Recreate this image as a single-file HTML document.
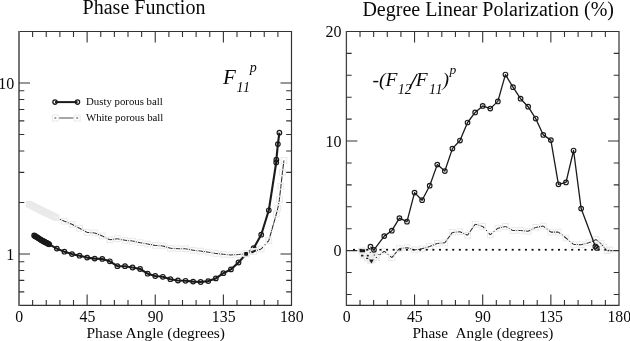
<!DOCTYPE html>
<html><head><meta charset="utf-8"><title>Phase Function / Degree Linear Polarization</title>
<style>
html,body{margin:0;padding:0;background:#fff;}
svg{display:block;will-change:transform;filter:grayscale(1);}
text{font-family:"Liberation Serif",serif;fill:#0a0a0a;}
</style></head><body>
<svg width="630" height="341" viewBox="0 0 630 341">
<rect width="630" height="341" fill="#fff"/>
<path d="M19.0,31.5H291.5V305.4H19.0" fill="none" stroke="#333" stroke-width="1.2"/>
<path d="M19.0,30.9V306.0" fill="none" stroke="#666" stroke-width="1.8"/>
<path d="M346.4,31.5H619.0V305.4H346.4" fill="none" stroke="#333" stroke-width="1.2"/>
<path d="M346.4,30.9V306.0" fill="none" stroke="#444" stroke-width="1.3"/>
<path d="M32.62,31.5v5.4 M32.62,305.4v-5.4 M46.25,31.5v5.4 M46.25,305.4v-5.4 M59.88,31.5v5.4 M59.88,305.4v-5.4 M73.50,31.5v5.4 M73.50,305.4v-5.4 M87.12,31.5v11 M87.12,305.4v-11 M100.75,31.5v5.4 M100.75,305.4v-5.4 M114.38,31.5v5.4 M114.38,305.4v-5.4 M128.00,31.5v5.4 M128.00,305.4v-5.4 M141.62,31.5v5.4 M141.62,305.4v-5.4 M155.25,31.5v11 M155.25,305.4v-11 M168.88,31.5v5.4 M168.88,305.4v-5.4 M182.50,31.5v5.4 M182.50,305.4v-5.4 M196.12,31.5v5.4 M196.12,305.4v-5.4 M209.75,31.5v5.4 M209.75,305.4v-5.4 M223.38,31.5v11 M223.38,305.4v-11 M237.00,31.5v5.4 M237.00,305.4v-5.4 M250.62,31.5v5.4 M250.62,305.4v-5.4 M264.25,31.5v5.4 M264.25,305.4v-5.4 M277.88,31.5v5.4 M277.88,305.4v-5.4" stroke="#333" stroke-width="1.1" fill="none"/>
<path d="M360.03,31.5v5.4 M360.03,305.4v-5.4 M373.66,31.5v5.4 M373.66,305.4v-5.4 M387.29,31.5v5.4 M387.29,305.4v-5.4 M400.92,31.5v5.4 M400.92,305.4v-5.4 M414.55,31.5v11 M414.55,305.4v-11 M428.18,31.5v5.4 M428.18,305.4v-5.4 M441.81,31.5v5.4 M441.81,305.4v-5.4 M455.44,31.5v5.4 M455.44,305.4v-5.4 M469.07,31.5v5.4 M469.07,305.4v-5.4 M482.70,31.5v11 M482.70,305.4v-11 M496.33,31.5v5.4 M496.33,305.4v-5.4 M509.96,31.5v5.4 M509.96,305.4v-5.4 M523.59,31.5v5.4 M523.59,305.4v-5.4 M537.22,31.5v5.4 M537.22,305.4v-5.4 M550.85,31.5v11 M550.85,305.4v-11 M564.48,31.5v5.4 M564.48,305.4v-5.4 M578.11,31.5v5.4 M578.11,305.4v-5.4 M591.74,31.5v5.4 M591.74,305.4v-5.4 M605.37,31.5v5.4 M605.37,305.4v-5.4" stroke="#333" stroke-width="1.1" fill="none"/>
<path d="M19.0,82.97h11 M291.5,82.97h-11 M19.0,90.79h5.3 M291.5,90.79h-5.3 M19.0,99.53h5.3 M291.5,99.53h-5.3 M19.0,109.45h5.3 M291.5,109.45h-5.3 M19.0,120.90h5.3 M291.5,120.90h-5.3 M19.0,134.43h5.3 M291.5,134.43h-5.3 M19.0,151.00h5.3 M291.5,151.00h-5.3 M19.0,172.36h5.3 M291.5,172.36h-5.3 M19.0,202.47h5.3 M291.5,202.47h-5.3 M19.0,253.93h11 M291.5,253.93h-11 M19.0,261.76h5.3 M291.5,261.76h-5.3 M19.0,270.50h5.3 M291.5,270.50h-5.3 M19.0,280.42h5.3 M291.5,280.42h-5.3 M19.0,291.86h5.3 M291.5,291.86h-5.3" stroke="#333" stroke-width="1.1" fill="none"/>
<path d="M346.4,294.44h5.3 M619.0,294.44h-5.3 M346.4,272.53h5.3 M619.0,272.53h-5.3 M346.4,250.62h11 M619.0,250.62h-11 M346.4,228.71h5.3 M619.0,228.71h-5.3 M346.4,206.80h5.3 M619.0,206.80h-5.3 M346.4,184.88h5.3 M619.0,184.88h-5.3 M346.4,162.97h5.3 M619.0,162.97h-5.3 M346.4,141.06h11 M619.0,141.06h-11 M346.4,119.15h5.3 M619.0,119.15h-5.3 M346.4,97.24h5.3 M619.0,97.24h-5.3 M346.4,75.32h5.3 M619.0,75.32h-5.3 M346.4,53.41h5.3 M619.0,53.41h-5.3" stroke="#333" stroke-width="1.1" fill="none"/>
<text x="19.3" y="321.6" font-size="15.8" text-anchor="middle"  style="">0</text>
<text x="346.7" y="321.6" font-size="15.8" text-anchor="middle"  style="">0</text>
<text x="87.4" y="321.6" font-size="15.8" text-anchor="middle"  style="">45</text>
<text x="414.8" y="321.6" font-size="15.8" text-anchor="middle"  style="">45</text>
<text x="155.6" y="321.6" font-size="15.8" text-anchor="middle"  style="">90</text>
<text x="483.0" y="321.6" font-size="15.8" text-anchor="middle"  style="">90</text>
<text x="223.7" y="321.6" font-size="15.8" text-anchor="middle"  style="">135</text>
<text x="551.1" y="321.6" font-size="15.8" text-anchor="middle"  style="">135</text>
<text x="291.8" y="321.6" font-size="15.8" text-anchor="middle"  style="">180</text>
<text x="619.3" y="321.6" font-size="15.8" text-anchor="middle"  style="">180</text>
<text x="14.2" y="88.6" font-size="16" text-anchor="end"  style="">10</text>
<text x="14.2" y="259.7" font-size="16" text-anchor="end"  style="">1</text>
<text x="341.6" y="36.9" font-size="16" text-anchor="end"  style="">20</text>
<text x="341.6" y="147.0" font-size="16" text-anchor="end"  style="">10</text>
<text x="341.6" y="255.9" font-size="16" text-anchor="end"  style="">0</text>
<text x="144" y="14.1" font-size="20" text-anchor="middle"  style="">Phase Function</text>
<text x="488.2" y="15.7" font-size="20" text-anchor="middle"  style="">Degree Linear Polarization (%)</text>
<text x="155.7" y="337.6" font-size="15.5" text-anchor="middle"  style="">Phase Angle (degrees)</text>
<text x="482.9" y="337.7" font-size="15.25" text-anchor="middle"  style="">Phase&#160;&#160;Angle (degrees)</text>
<text x="86.0" y="105" font-size="10.8" text-anchor="start"  style="">Dusty porous ball</text>
<text x="86.0" y="120.5" font-size="10.8" text-anchor="start"  style="">White porous ball</text>
<text x="223.0" y="83.7" font-size="21" text-anchor="start"  style="font-style:italic">F</text>
<text x="236.6" y="91.9" font-size="14" text-anchor="start"  style="font-style:italic;letter-spacing:0.5px">11</text>
<text x="249.7" y="72.0" font-size="14" text-anchor="start"  style="font-style:italic">p</text>
<text x="372.6" y="85.5" font-size="19.5" text-anchor="start"  style="font-style:italic">-(F</text>
<text x="397.8" y="94.1" font-size="14" text-anchor="start"  style="font-style:italic">12</text>
<path d="M409.3,88.6L417.2,74.0" stroke="#0a0a0a" stroke-width="1.25" fill="none"/>
<text x="415.7" y="85.5" font-size="19.5" text-anchor="start"  style="font-style:italic">F</text>
<text x="428.9" y="94.1" font-size="14" text-anchor="start"  style="font-style:italic;letter-spacing:0.6px">11</text>
<text x="442.6" y="85.5" font-size="19.5" text-anchor="start"  style="font-style:italic">)</text>
<text x="449.5" y="74.4" font-size="13.5" text-anchor="start"  style="font-style:italic">p</text>
<path d="M56.24,217.60L64.42,221.20" fill="none" stroke="#2a2a2a" stroke-width="1.05" stroke-dasharray="2.4 1.42 1.3 1.42 2.4 0"/>
<path d="M64.42,221.20L71.99,224.30" fill="none" stroke="#2a2a2a" stroke-width="1.05" stroke-dasharray="2.4 1.04 1.3 1.04 2.4 0"/>
<path d="M71.99,224.30L79.56,228.30" fill="none" stroke="#2a2a2a" stroke-width="1.05" stroke-dasharray="2.4 1.23 1.3 1.23 2.4 0"/>
<path d="M79.56,228.30L87.12,232.40" fill="none" stroke="#2a2a2a" stroke-width="1.05" stroke-dasharray="2.4 1.25 1.3 1.25 2.4 0"/>
<path d="M87.12,232.40L94.69,232.90" fill="none" stroke="#2a2a2a" stroke-width="1.05" stroke-dasharray="2.4 0.74 1.3 0.74 2.4 0"/>
<path d="M94.69,232.90L102.26,236.00" fill="none" stroke="#2a2a2a" stroke-width="1.05" stroke-dasharray="2.4 1.04 1.3 1.04 2.4 0"/>
<path d="M102.26,236.00L109.83,239.80" fill="none" stroke="#2a2a2a" stroke-width="1.05" stroke-dasharray="2.4 1.18 1.3 1.18 2.4 0"/>
<path d="M109.83,239.80L117.40,238.70" fill="none" stroke="#2a2a2a" stroke-width="1.05" stroke-dasharray="2.4 0.77 1.3 0.77 2.4 0"/>
<path d="M117.40,238.70L124.97,240.30" fill="none" stroke="#2a2a2a" stroke-width="1.05" stroke-dasharray="2.4 0.82 1.3 0.82 2.4 0"/>
<path d="M124.97,240.30L132.54,241.10" fill="none" stroke="#2a2a2a" stroke-width="1.05" stroke-dasharray="2.4 0.76 1.3 0.76 2.4 0"/>
<path d="M132.54,241.10L140.11,242.70" fill="none" stroke="#2a2a2a" stroke-width="1.05" stroke-dasharray="2.4 0.82 1.3 0.82 2.4 0"/>
<path d="M140.11,242.70L147.68,244.00" fill="none" stroke="#2a2a2a" stroke-width="1.05" stroke-dasharray="2.4 0.79 1.3 0.79 2.4 0"/>
<path d="M147.68,244.00L155.25,245.40" fill="none" stroke="#2a2a2a" stroke-width="1.05" stroke-dasharray="2.4 0.80 1.3 0.80 2.4 0"/>
<path d="M155.25,245.40L162.82,245.90" fill="none" stroke="#2a2a2a" stroke-width="1.05" stroke-dasharray="2.4 0.74 1.3 0.74 2.4 0"/>
<path d="M162.82,245.90L170.39,248.30" fill="none" stroke="#2a2a2a" stroke-width="1.05" stroke-dasharray="2.4 0.92 1.3 0.92 2.4 0"/>
<path d="M170.39,248.30L177.96,248.70" fill="none" stroke="#2a2a2a" stroke-width="1.05" stroke-dasharray="2.4 0.74 1.3 0.74 2.4 0"/>
<path d="M177.96,248.70L185.53,248.70" fill="none" stroke="#2a2a2a" stroke-width="1.05" stroke-dasharray="2.4 0.73 1.3 0.73 2.4 0"/>
<path d="M185.53,248.70L193.10,250.30" fill="none" stroke="#2a2a2a" stroke-width="1.05" stroke-dasharray="2.4 0.82 1.3 0.82 2.4 0"/>
<path d="M193.10,250.30L200.67,251.10" fill="none" stroke="#2a2a2a" stroke-width="1.05" stroke-dasharray="2.4 0.76 1.3 0.76 2.4 0"/>
<path d="M200.67,251.10L208.24,252.20" fill="none" stroke="#2a2a2a" stroke-width="1.05" stroke-dasharray="2.4 0.77 1.3 0.77 2.4 0"/>
<path d="M208.24,252.20L215.81,253.50" fill="none" stroke="#2a2a2a" stroke-width="1.05" stroke-dasharray="2.4 0.79 1.3 0.79 2.4 0"/>
<path d="M215.81,253.50L223.38,254.30" fill="none" stroke="#2a2a2a" stroke-width="1.05" stroke-dasharray="2.4 0.76 1.3 0.76 2.4 0"/>
<path d="M223.38,254.30L230.94,254.90" fill="none" stroke="#2a2a2a" stroke-width="1.05" stroke-dasharray="2.4 0.75 1.3 0.75 2.4 0"/>
<path d="M230.94,254.90L238.51,254.60" fill="none" stroke="#2a2a2a" stroke-width="1.05" stroke-dasharray="2.4 0.74 1.3 0.74 2.4 0"/>
<path d="M238.51,254.60L246.08,253.80" fill="none" stroke="#2a2a2a" stroke-width="1.05" stroke-dasharray="2.4 0.76 1.3 0.76 2.4 0"/>
<path d="M246.08,253.80L253.65,251.40" fill="none" stroke="#2a2a2a" stroke-width="1.05" stroke-dasharray="2.4 0.92 1.3 0.92 2.4 0"/>
<path d="M253.65,251.40L261.22,249.00" fill="none" stroke="#2a2a2a" stroke-width="1.05" stroke-dasharray="2.4 0.92 1.3 0.92 2.4 0"/>
<path d="M261.22,249.00L268.79,240.60" fill="none" stroke="#2a2a2a" stroke-width="1.05" stroke-dasharray="4.8 2.70 1.1 2.70" stroke-dashoffset="2.4"/>
<path d="M268.79,240.60L276.36,214.00" fill="none" stroke="#2a2a2a" stroke-width="1.05" stroke-dasharray="4.8 0.51 1.1 0.51" stroke-dashoffset="2.4"/>
<path d="M276.36,214.00L277.88,208.00" fill="none" stroke="#2a2a2a" stroke-width="1.05" stroke-dasharray="2.4 0.04 1.3 0.04 2.4 0"/>
<path d="M277.88,208.00L279.39,199.50" fill="none" stroke="#2a2a2a" stroke-width="1.05" stroke-dasharray="2.4 1.27 1.3 1.27 2.4 0"/>
<path d="M279.39,199.50L280.90,186.40" fill="none" stroke="#2a2a2a" stroke-width="1.05" stroke-dasharray="4.8 0.35 1.1 0.35" stroke-dashoffset="2.4"/>
<path d="M280.90,186.40L282.42,172.60" fill="none" stroke="#2a2a2a" stroke-width="1.05" stroke-dasharray="4.8 0.52 1.1 0.52" stroke-dashoffset="2.4"/>
<path d="M282.42,172.60L283.93,160.50" fill="none" stroke="#2a2a2a" stroke-width="1.05" stroke-dasharray="4.8 0.10 1.1 0.10" stroke-dashoffset="2.4"/>
<rect x="26.29" y="201.40" width="5.4" height="5.4" fill="#ededed" stroke="#e9e9e9" stroke-width="1"/>
<rect x="27.81" y="202.18" width="5.4" height="5.4" fill="#ededed" stroke="#e9e9e9" stroke-width="1"/>
<rect x="29.32" y="202.96" width="5.4" height="5.4" fill="#ededed" stroke="#e9e9e9" stroke-width="1"/>
<rect x="30.83" y="203.73" width="5.4" height="5.4" fill="#ededed" stroke="#e9e9e9" stroke-width="1"/>
<rect x="32.35" y="204.51" width="5.4" height="5.4" fill="#ededed" stroke="#e9e9e9" stroke-width="1"/>
<rect x="33.86" y="205.29" width="5.4" height="5.4" fill="#ededed" stroke="#e9e9e9" stroke-width="1"/>
<rect x="35.38" y="206.07" width="5.4" height="5.4" fill="#ededed" stroke="#e9e9e9" stroke-width="1"/>
<rect x="36.89" y="206.84" width="5.4" height="5.4" fill="#ededed" stroke="#e9e9e9" stroke-width="1"/>
<rect x="38.40" y="207.62" width="5.4" height="5.4" fill="#ededed" stroke="#e9e9e9" stroke-width="1"/>
<rect x="39.92" y="208.40" width="5.4" height="5.4" fill="#ededed" stroke="#e9e9e9" stroke-width="1"/>
<rect x="41.43" y="209.12" width="5.4" height="5.4" fill="#ededed" stroke="#e9e9e9" stroke-width="1"/>
<rect x="42.94" y="209.84" width="5.4" height="5.4" fill="#ededed" stroke="#e9e9e9" stroke-width="1"/>
<rect x="44.46" y="210.57" width="5.4" height="5.4" fill="#ededed" stroke="#e9e9e9" stroke-width="1"/>
<rect x="45.97" y="211.29" width="5.4" height="5.4" fill="#ededed" stroke="#e9e9e9" stroke-width="1"/>
<rect x="47.49" y="212.01" width="5.4" height="5.4" fill="#ededed" stroke="#e9e9e9" stroke-width="1"/>
<rect x="49.00" y="212.73" width="5.4" height="5.4" fill="#ededed" stroke="#e9e9e9" stroke-width="1"/>
<rect x="50.51" y="213.46" width="5.4" height="5.4" fill="#ededed" stroke="#e9e9e9" stroke-width="1"/>
<rect x="52.03" y="214.18" width="5.4" height="5.4" fill="#ededed" stroke="#e9e9e9" stroke-width="1"/>
<rect x="53.54" y="214.90" width="5.4" height="5.4" fill="#ededed" stroke="#e9e9e9" stroke-width="1"/>
<rect x="61.57" y="218.35" width="5.7" height="5.7" fill="none" stroke="#e9e9e9" stroke-width="1"/>
<rect x="69.14" y="221.45" width="5.7" height="5.7" fill="none" stroke="#e9e9e9" stroke-width="1"/>
<rect x="76.71" y="225.45" width="5.7" height="5.7" fill="none" stroke="#e9e9e9" stroke-width="1"/>
<rect x="84.28" y="229.55" width="5.7" height="5.7" fill="none" stroke="#e9e9e9" stroke-width="1"/>
<rect x="91.84" y="230.05" width="5.7" height="5.7" fill="none" stroke="#e9e9e9" stroke-width="1"/>
<rect x="99.41" y="233.15" width="5.7" height="5.7" fill="none" stroke="#e9e9e9" stroke-width="1"/>
<rect x="106.98" y="236.95" width="5.7" height="5.7" fill="none" stroke="#e9e9e9" stroke-width="1"/>
<rect x="114.55" y="235.85" width="5.7" height="5.7" fill="none" stroke="#e9e9e9" stroke-width="1"/>
<rect x="122.12" y="237.45" width="5.7" height="5.7" fill="none" stroke="#e9e9e9" stroke-width="1"/>
<rect x="129.69" y="238.25" width="5.7" height="5.7" fill="none" stroke="#e9e9e9" stroke-width="1"/>
<rect x="137.26" y="239.85" width="5.7" height="5.7" fill="none" stroke="#e9e9e9" stroke-width="1"/>
<rect x="144.83" y="241.15" width="5.7" height="5.7" fill="none" stroke="#e9e9e9" stroke-width="1"/>
<rect x="152.40" y="242.55" width="5.7" height="5.7" fill="none" stroke="#e9e9e9" stroke-width="1"/>
<rect x="159.97" y="243.05" width="5.7" height="5.7" fill="none" stroke="#e9e9e9" stroke-width="1"/>
<rect x="167.54" y="245.45" width="5.7" height="5.7" fill="none" stroke="#e9e9e9" stroke-width="1"/>
<rect x="175.11" y="245.85" width="5.7" height="5.7" fill="none" stroke="#e9e9e9" stroke-width="1"/>
<rect x="182.68" y="245.85" width="5.7" height="5.7" fill="none" stroke="#e9e9e9" stroke-width="1"/>
<rect x="190.25" y="247.45" width="5.7" height="5.7" fill="none" stroke="#e9e9e9" stroke-width="1"/>
<rect x="197.82" y="248.25" width="5.7" height="5.7" fill="none" stroke="#e9e9e9" stroke-width="1"/>
<rect x="205.39" y="249.35" width="5.7" height="5.7" fill="none" stroke="#e9e9e9" stroke-width="1"/>
<rect x="212.96" y="250.65" width="5.7" height="5.7" fill="none" stroke="#e9e9e9" stroke-width="1"/>
<rect x="220.53" y="251.45" width="5.7" height="5.7" fill="none" stroke="#e9e9e9" stroke-width="1"/>
<rect x="228.09" y="252.05" width="5.7" height="5.7" fill="none" stroke="#e9e9e9" stroke-width="1"/>
<rect x="235.66" y="251.75" width="5.7" height="5.7" fill="none" stroke="#e9e9e9" stroke-width="1"/>
<rect x="243.23" y="250.95" width="5.7" height="5.7" fill="none" stroke="#e9e9e9" stroke-width="1"/>
<rect x="250.80" y="248.55" width="5.7" height="5.7" fill="none" stroke="#e9e9e9" stroke-width="1"/>
<rect x="258.37" y="246.15" width="5.7" height="5.7" fill="none" stroke="#e9e9e9" stroke-width="1"/>
<rect x="265.94" y="237.75" width="5.7" height="5.7" fill="none" stroke="#e9e9e9" stroke-width="1"/>
<rect x="273.51" y="211.15" width="5.7" height="5.7" fill="none" stroke="#e9e9e9" stroke-width="1"/>
<rect x="275.02" y="205.15" width="5.7" height="5.7" fill="none" stroke="#e9e9e9" stroke-width="1"/>
<rect x="276.54" y="196.65" width="5.7" height="5.7" fill="none" stroke="#e9e9e9" stroke-width="1"/>
<rect x="278.05" y="183.55" width="5.7" height="5.7" fill="none" stroke="#e9e9e9" stroke-width="1"/>
<rect x="279.57" y="169.75" width="5.7" height="5.7" fill="none" stroke="#e9e9e9" stroke-width="1"/>
<rect x="281.08" y="157.65" width="5.7" height="5.7" fill="none" stroke="#e9e9e9" stroke-width="1"/>
<path d="M34.14,235.40 L34.90,235.89 L35.65,236.38 L36.41,236.87 L37.17,237.36 L37.92,237.85 L38.68,238.34 L39.44,238.83 L40.19,239.32 L40.95,239.81 L41.71,240.30 L42.47,240.70 L43.22,241.10 L43.98,241.50 L44.74,241.90 L45.49,242.30 L46.25,242.70 L47.01,243.10 L47.76,243.50 L48.52,243.90 L49.28,244.30 L56.85,248.60 L64.42,251.70 L71.99,254.10 L79.56,255.70 L87.12,257.60 L94.69,258.60 L102.26,258.90 L109.83,261.30 L117.40,266.20 L124.97,266.20 L132.54,267.50 L140.11,269.00 L147.68,273.70 L155.25,276.00 L162.82,276.80 L170.39,279.20 L177.96,280.50 L185.53,280.80 L193.10,281.60 L200.67,282.00 L208.24,281.10 L215.81,278.40 L223.38,273.20 L230.94,269.40 L238.51,262.50 L246.08,254.10 L253.65,248.20 L261.22,234.70 L268.79,210.30 L276.21,162.50 L276.36,159.70 L277.88,144.10 L279.39,132.70" fill="none" stroke="#1a1a1a" stroke-width="2.1" stroke-linejoin="round"/>
<circle cx="34.14" cy="235.40" r="2.3" fill="none" stroke="#1a1a1a" stroke-width="1.2"/>
<circle cx="34.90" cy="235.89" r="2.3" fill="none" stroke="#1a1a1a" stroke-width="1.2"/>
<circle cx="35.65" cy="236.38" r="2.3" fill="none" stroke="#1a1a1a" stroke-width="1.2"/>
<circle cx="36.41" cy="236.87" r="2.3" fill="none" stroke="#1a1a1a" stroke-width="1.2"/>
<circle cx="37.17" cy="237.36" r="2.3" fill="none" stroke="#1a1a1a" stroke-width="1.2"/>
<circle cx="37.92" cy="237.85" r="2.3" fill="none" stroke="#1a1a1a" stroke-width="1.2"/>
<circle cx="38.68" cy="238.34" r="2.3" fill="none" stroke="#1a1a1a" stroke-width="1.2"/>
<circle cx="39.44" cy="238.83" r="2.3" fill="none" stroke="#1a1a1a" stroke-width="1.2"/>
<circle cx="40.19" cy="239.32" r="2.3" fill="none" stroke="#1a1a1a" stroke-width="1.2"/>
<circle cx="40.95" cy="239.81" r="2.3" fill="none" stroke="#1a1a1a" stroke-width="1.2"/>
<circle cx="41.71" cy="240.30" r="2.3" fill="none" stroke="#1a1a1a" stroke-width="1.2"/>
<circle cx="42.47" cy="240.70" r="2.3" fill="none" stroke="#1a1a1a" stroke-width="1.2"/>
<circle cx="43.22" cy="241.10" r="2.3" fill="none" stroke="#1a1a1a" stroke-width="1.2"/>
<circle cx="43.98" cy="241.50" r="2.3" fill="none" stroke="#1a1a1a" stroke-width="1.2"/>
<circle cx="44.74" cy="241.90" r="2.3" fill="none" stroke="#1a1a1a" stroke-width="1.2"/>
<circle cx="45.49" cy="242.30" r="2.3" fill="none" stroke="#1a1a1a" stroke-width="1.2"/>
<circle cx="46.25" cy="242.70" r="2.3" fill="none" stroke="#1a1a1a" stroke-width="1.2"/>
<circle cx="47.01" cy="243.10" r="2.3" fill="none" stroke="#1a1a1a" stroke-width="1.2"/>
<circle cx="47.76" cy="243.50" r="2.3" fill="none" stroke="#1a1a1a" stroke-width="1.2"/>
<circle cx="48.52" cy="243.90" r="2.3" fill="none" stroke="#1a1a1a" stroke-width="1.2"/>
<circle cx="49.28" cy="244.30" r="2.3" fill="none" stroke="#1a1a1a" stroke-width="1.2"/>
<circle cx="56.85" cy="248.60" r="2.3" fill="none" stroke="#1a1a1a" stroke-width="1.2"/>
<circle cx="64.42" cy="251.70" r="2.3" fill="none" stroke="#1a1a1a" stroke-width="1.2"/>
<circle cx="71.99" cy="254.10" r="2.3" fill="none" stroke="#1a1a1a" stroke-width="1.2"/>
<circle cx="79.56" cy="255.70" r="2.3" fill="none" stroke="#1a1a1a" stroke-width="1.2"/>
<circle cx="87.12" cy="257.60" r="2.3" fill="none" stroke="#1a1a1a" stroke-width="1.2"/>
<circle cx="94.69" cy="258.60" r="2.3" fill="none" stroke="#1a1a1a" stroke-width="1.2"/>
<circle cx="102.26" cy="258.90" r="2.3" fill="none" stroke="#1a1a1a" stroke-width="1.2"/>
<circle cx="109.83" cy="261.30" r="2.3" fill="none" stroke="#1a1a1a" stroke-width="1.2"/>
<circle cx="117.40" cy="266.20" r="2.3" fill="none" stroke="#1a1a1a" stroke-width="1.2"/>
<circle cx="124.97" cy="266.20" r="2.3" fill="none" stroke="#1a1a1a" stroke-width="1.2"/>
<circle cx="132.54" cy="267.50" r="2.3" fill="none" stroke="#1a1a1a" stroke-width="1.2"/>
<circle cx="140.11" cy="269.00" r="2.3" fill="none" stroke="#1a1a1a" stroke-width="1.2"/>
<circle cx="147.68" cy="273.70" r="2.3" fill="none" stroke="#1a1a1a" stroke-width="1.2"/>
<circle cx="155.25" cy="276.00" r="2.3" fill="none" stroke="#1a1a1a" stroke-width="1.2"/>
<circle cx="162.82" cy="276.80" r="2.3" fill="none" stroke="#1a1a1a" stroke-width="1.2"/>
<circle cx="170.39" cy="279.20" r="2.3" fill="none" stroke="#1a1a1a" stroke-width="1.2"/>
<circle cx="177.96" cy="280.50" r="2.3" fill="none" stroke="#1a1a1a" stroke-width="1.2"/>
<circle cx="185.53" cy="280.80" r="2.3" fill="none" stroke="#1a1a1a" stroke-width="1.2"/>
<circle cx="193.10" cy="281.60" r="2.3" fill="none" stroke="#1a1a1a" stroke-width="1.2"/>
<circle cx="200.67" cy="282.00" r="2.3" fill="none" stroke="#1a1a1a" stroke-width="1.2"/>
<circle cx="208.24" cy="281.10" r="2.3" fill="none" stroke="#1a1a1a" stroke-width="1.2"/>
<circle cx="215.81" cy="278.40" r="2.3" fill="none" stroke="#1a1a1a" stroke-width="1.2"/>
<circle cx="223.38" cy="273.20" r="2.3" fill="none" stroke="#1a1a1a" stroke-width="1.2"/>
<circle cx="230.94" cy="269.40" r="2.3" fill="none" stroke="#1a1a1a" stroke-width="1.2"/>
<circle cx="238.51" cy="262.50" r="2.3" fill="none" stroke="#1a1a1a" stroke-width="1.2"/>
<circle cx="246.08" cy="254.10" r="2.3" fill="none" stroke="#1a1a1a" stroke-width="1.2"/>
<circle cx="253.65" cy="248.20" r="2.3" fill="none" stroke="#1a1a1a" stroke-width="1.2"/>
<circle cx="261.22" cy="234.70" r="2.3" fill="none" stroke="#1a1a1a" stroke-width="1.2"/>
<circle cx="268.79" cy="210.30" r="2.3" fill="none" stroke="#1a1a1a" stroke-width="1.2"/>
<circle cx="276.21" cy="162.50" r="2.3" fill="none" stroke="#1a1a1a" stroke-width="1.2"/>
<circle cx="276.36" cy="159.70" r="2.3" fill="none" stroke="#1a1a1a" stroke-width="1.2"/>
<circle cx="277.88" cy="144.10" r="2.3" fill="none" stroke="#1a1a1a" stroke-width="1.2"/>
<circle cx="279.39" cy="132.70" r="2.3" fill="none" stroke="#1a1a1a" stroke-width="1.2"/>
<rect x="243.18" y="250.90" width="5.8" height="5.8" fill="#fff" fill-opacity="0.88" stroke="#e9e9e9" stroke-width="1"/>
<rect x="250.75" y="248.50" width="5.8" height="5.8" fill="#fff" fill-opacity="0.88" stroke="#e9e9e9" stroke-width="1"/>
<rect x="244.18" y="252.00" width="3.8" height="3.8" rx="0.8" fill="#111"/>
<path d="M251.35,252.5L255.85,250.4" stroke="#1a1a1a" stroke-width="2" fill="none"/>
<path d="M55,102.1H77.5" stroke="#1a1a1a" stroke-width="2.0"/>
<circle cx="55.00" cy="102.10" r="2.15" fill="none" stroke="#1a1a1a" stroke-width="1.3"/>
<circle cx="77.50" cy="102.10" r="2.15" fill="none" stroke="#1a1a1a" stroke-width="1.3"/>
<path d="M59,118H73.5" stroke="#777" stroke-width="1.3"/>
<rect x="52.30" y="115.00" width="6.0" height="6.0" fill="none" stroke="#e9e9e9" stroke-width="1"/>
<rect x="74.20" y="115.00" width="6.0" height="6.0" fill="none" stroke="#e9e9e9" stroke-width="1"/>
<rect x="54.4" y="117.3" width="1.9" height="1.4" fill="#777"/><rect x="76.2" y="117.3" width="1.9" height="1.4" fill="#777"/>
<path d="M361.54,251.00L363.06,255.50" fill="none" stroke="#2a2a2a" stroke-width="1.05" stroke-dasharray="2.4 -0.68 1.3 -0.68 2.4 0"/>
<path d="M363.06,255.50L364.57,251.00" fill="none" stroke="#2a2a2a" stroke-width="1.05" stroke-dasharray="2.4 -0.68 1.3 -0.68 2.4 0"/>
<path d="M364.57,251.00L366.09,256.00" fill="none" stroke="#2a2a2a" stroke-width="1.05" stroke-dasharray="2.4 -0.44 1.3 -0.44 2.4 0"/>
<path d="M366.09,256.00L367.60,258.30" fill="none" stroke="#2a2a2a" stroke-width="1.05" />
<path d="M367.60,258.30L369.12,253.00" fill="none" stroke="#2a2a2a" stroke-width="1.05" stroke-dasharray="2.4 -0.29 1.3 -0.29 2.4 0"/>
<path d="M369.12,253.00L370.63,260.50" fill="none" stroke="#2a2a2a" stroke-width="1.05" stroke-dasharray="2.4 0.78 1.3 0.78 2.4 0"/>
<path d="M370.63,260.50L372.15,259.50" fill="none" stroke="#2a2a2a" stroke-width="1.05" />
<path d="M372.15,259.50L373.66,255.00" fill="none" stroke="#2a2a2a" stroke-width="1.05" stroke-dasharray="2.4 -0.68 1.3 -0.68 2.4 0"/>
<path d="M373.66,255.00L375.17,256.00" fill="none" stroke="#2a2a2a" stroke-width="1.05" />
<path d="M375.17,256.00L376.69,257.50" fill="none" stroke="#2a2a2a" stroke-width="1.05" />
<path d="M376.69,257.50L384.26,251.20" fill="none" stroke="#2a2a2a" stroke-width="1.05" stroke-dasharray="2.4 1.88 1.3 1.88 2.4 0"/>
<path d="M384.26,251.20L391.83,257.70" fill="none" stroke="#2a2a2a" stroke-width="1.05" stroke-dasharray="2.4 1.94 1.3 1.94 2.4 0"/>
<path d="M391.83,257.70L399.41,248.50" fill="none" stroke="#2a2a2a" stroke-width="1.05" stroke-dasharray="4.8 0.03 1.1 0.03" stroke-dashoffset="2.4"/>
<path d="M399.41,248.50L406.98,247.70" fill="none" stroke="#2a2a2a" stroke-width="1.05" stroke-dasharray="2.4 0.76 1.3 0.76 2.4 0"/>
<path d="M406.98,247.70L414.55,249.90" fill="none" stroke="#2a2a2a" stroke-width="1.05" stroke-dasharray="2.4 0.89 1.3 0.89 2.4 0"/>
<path d="M414.55,249.90L422.12,248.80" fill="none" stroke="#2a2a2a" stroke-width="1.05" stroke-dasharray="2.4 0.78 1.3 0.78 2.4 0"/>
<path d="M422.12,248.80L429.69,246.40" fill="none" stroke="#2a2a2a" stroke-width="1.05" stroke-dasharray="2.4 0.92 1.3 0.92 2.4 0"/>
<path d="M429.69,246.40L437.27,243.40" fill="none" stroke="#2a2a2a" stroke-width="1.05" stroke-dasharray="2.4 1.02 1.3 1.02 2.4 0"/>
<path d="M437.27,243.40L444.84,242.80" fill="none" stroke="#2a2a2a" stroke-width="1.05" stroke-dasharray="2.4 0.75 1.3 0.75 2.4 0"/>
<path d="M444.84,242.80L452.41,232.40" fill="none" stroke="#2a2a2a" stroke-width="1.05" stroke-dasharray="4.8 0.27 1.1 0.27" stroke-dashoffset="2.4"/>
<path d="M452.41,232.40L459.98,231.80" fill="none" stroke="#2a2a2a" stroke-width="1.05" stroke-dasharray="2.4 0.75 1.3 0.75 2.4 0"/>
<path d="M459.98,231.80L467.56,235.30" fill="none" stroke="#2a2a2a" stroke-width="1.05" stroke-dasharray="2.4 1.12 1.3 1.12 2.4 0"/>
<path d="M467.56,235.30L475.13,224.20" fill="none" stroke="#2a2a2a" stroke-width="1.05" stroke-dasharray="4.8 0.41 1.1 0.41" stroke-dashoffset="2.4"/>
<path d="M475.13,224.20L482.70,226.40" fill="none" stroke="#2a2a2a" stroke-width="1.05" stroke-dasharray="2.4 0.89 1.3 0.89 2.4 0"/>
<path d="M482.70,226.40L490.27,234.80" fill="none" stroke="#2a2a2a" stroke-width="1.05" stroke-dasharray="4.8 2.70 1.1 2.70" stroke-dashoffset="2.4"/>
<path d="M490.27,234.80L497.84,228.20" fill="none" stroke="#2a2a2a" stroke-width="1.05" stroke-dasharray="2.4 1.97 1.3 1.97 2.4 0"/>
<path d="M497.84,228.20L505.42,226.40" fill="none" stroke="#2a2a2a" stroke-width="1.05" stroke-dasharray="2.4 0.84 1.3 0.84 2.4 0"/>
<path d="M505.42,226.40L512.99,230.60" fill="none" stroke="#2a2a2a" stroke-width="1.05" stroke-dasharray="2.4 1.28 1.3 1.28 2.4 0"/>
<path d="M512.99,230.60L520.56,230.40" fill="none" stroke="#2a2a2a" stroke-width="1.05" stroke-dasharray="2.4 0.74 1.3 0.74 2.4 0"/>
<path d="M520.56,230.40L528.13,231.30" fill="none" stroke="#2a2a2a" stroke-width="1.05" stroke-dasharray="2.4 0.76 1.3 0.76 2.4 0"/>
<path d="M528.13,231.30L535.71,227.40" fill="none" stroke="#2a2a2a" stroke-width="1.05" stroke-dasharray="2.4 1.21 1.3 1.21 2.4 0"/>
<path d="M535.71,227.40L543.28,226.10" fill="none" stroke="#2a2a2a" stroke-width="1.05" stroke-dasharray="2.4 0.79 1.3 0.79 2.4 0"/>
<path d="M543.28,226.10L550.85,232.10" fill="none" stroke="#2a2a2a" stroke-width="1.05" stroke-dasharray="2.4 1.78 1.3 1.78 2.4 0"/>
<path d="M550.85,232.10L558.42,232.10" fill="none" stroke="#2a2a2a" stroke-width="1.05" stroke-dasharray="2.4 0.74 1.3 0.74 2.4 0"/>
<path d="M558.42,232.10L565.99,238.00" fill="none" stroke="#2a2a2a" stroke-width="1.05" stroke-dasharray="2.4 1.75 1.3 1.75 2.4 0"/>
<path d="M565.99,238.00L573.57,244.40" fill="none" stroke="#2a2a2a" stroke-width="1.05" stroke-dasharray="2.4 1.91 1.3 1.91 2.4 0"/>
<path d="M573.57,244.40L581.14,244.70" fill="none" stroke="#2a2a2a" stroke-width="1.05" stroke-dasharray="2.4 0.74 1.3 0.74 2.4 0"/>
<path d="M581.14,244.70L588.71,242.80" fill="none" stroke="#2a2a2a" stroke-width="1.05" stroke-dasharray="2.4 0.85 1.3 0.85 2.4 0"/>
<path d="M588.71,242.80L596.28,239.60" fill="none" stroke="#2a2a2a" stroke-width="1.05" stroke-dasharray="2.4 1.06 1.3 1.06 2.4 0"/>
<path d="M596.28,239.60L600.83,243.60" fill="none" stroke="#2a2a2a" stroke-width="1.05" stroke-dasharray="2.4 -0.02 1.3 -0.02 2.4 0"/>
<path d="M600.83,243.60L603.86,247.00" fill="none" stroke="#2a2a2a" stroke-width="1.05" stroke-dasharray="2.4 -0.77 1.3 -0.77 2.4 0"/>
<path d="M603.86,247.00L606.88,250.70" fill="none" stroke="#2a2a2a" stroke-width="1.05" stroke-dasharray="2.4 -0.66 1.3 -0.66 2.4 0"/>
<path d="M606.88,250.70L609.91,249.90" fill="none" stroke="#2a2a2a" stroke-width="1.05" stroke-dasharray="2.4 -1.48 1.3 -1.48 2.4 0"/>
<rect x="358.69" y="248.15" width="5.7" height="5.7" fill="#f1f1f1" stroke="#e9e9e9" stroke-width="1"/>
<rect x="360.21" y="252.65" width="5.7" height="5.7" fill="#f1f1f1" stroke="#e9e9e9" stroke-width="1"/>
<rect x="361.72" y="248.15" width="5.7" height="5.7" fill="#f1f1f1" stroke="#e9e9e9" stroke-width="1"/>
<rect x="363.24" y="253.15" width="5.7" height="5.7" fill="#f1f1f1" stroke="#e9e9e9" stroke-width="1"/>
<rect x="364.75" y="255.45" width="5.7" height="5.7" fill="#f1f1f1" stroke="#e9e9e9" stroke-width="1"/>
<rect x="366.27" y="250.15" width="5.7" height="5.7" fill="#f1f1f1" stroke="#e9e9e9" stroke-width="1"/>
<rect x="367.78" y="257.65" width="5.7" height="5.7" fill="#f1f1f1" stroke="#e9e9e9" stroke-width="1"/>
<rect x="369.30" y="256.65" width="5.7" height="5.7" fill="#f1f1f1" stroke="#e9e9e9" stroke-width="1"/>
<rect x="370.81" y="252.15" width="5.7" height="5.7" fill="#f1f1f1" stroke="#e9e9e9" stroke-width="1"/>
<rect x="372.32" y="253.15" width="5.7" height="5.7" fill="#f1f1f1" stroke="#e9e9e9" stroke-width="1"/>
<rect x="373.84" y="254.65" width="5.7" height="5.7" fill="#f1f1f1" stroke="#e9e9e9" stroke-width="1"/>
<rect x="381.41" y="248.35" width="5.7" height="5.7" fill="none" stroke="#e9e9e9" stroke-width="1"/>
<rect x="388.98" y="254.85" width="5.7" height="5.7" fill="none" stroke="#e9e9e9" stroke-width="1"/>
<rect x="396.56" y="245.65" width="5.7" height="5.7" fill="none" stroke="#e9e9e9" stroke-width="1"/>
<rect x="404.13" y="244.85" width="5.7" height="5.7" fill="none" stroke="#e9e9e9" stroke-width="1"/>
<rect x="411.70" y="247.05" width="5.7" height="5.7" fill="none" stroke="#e9e9e9" stroke-width="1"/>
<rect x="419.27" y="245.95" width="5.7" height="5.7" fill="none" stroke="#e9e9e9" stroke-width="1"/>
<rect x="426.84" y="243.55" width="5.7" height="5.7" fill="none" stroke="#e9e9e9" stroke-width="1"/>
<rect x="434.42" y="240.55" width="5.7" height="5.7" fill="none" stroke="#e9e9e9" stroke-width="1"/>
<rect x="441.99" y="239.95" width="5.7" height="5.7" fill="none" stroke="#e9e9e9" stroke-width="1"/>
<rect x="449.56" y="229.55" width="5.7" height="5.7" fill="none" stroke="#e9e9e9" stroke-width="1"/>
<rect x="457.13" y="228.95" width="5.7" height="5.7" fill="none" stroke="#e9e9e9" stroke-width="1"/>
<rect x="464.71" y="232.45" width="5.7" height="5.7" fill="none" stroke="#e9e9e9" stroke-width="1"/>
<rect x="472.28" y="221.35" width="5.7" height="5.7" fill="none" stroke="#e9e9e9" stroke-width="1"/>
<rect x="479.85" y="223.55" width="5.7" height="5.7" fill="none" stroke="#e9e9e9" stroke-width="1"/>
<rect x="487.42" y="231.95" width="5.7" height="5.7" fill="none" stroke="#e9e9e9" stroke-width="1"/>
<rect x="494.99" y="225.35" width="5.7" height="5.7" fill="none" stroke="#e9e9e9" stroke-width="1"/>
<rect x="502.57" y="223.55" width="5.7" height="5.7" fill="none" stroke="#e9e9e9" stroke-width="1"/>
<rect x="510.14" y="227.75" width="5.7" height="5.7" fill="none" stroke="#e9e9e9" stroke-width="1"/>
<rect x="517.71" y="227.55" width="5.7" height="5.7" fill="none" stroke="#e9e9e9" stroke-width="1"/>
<rect x="525.28" y="228.45" width="5.7" height="5.7" fill="none" stroke="#e9e9e9" stroke-width="1"/>
<rect x="532.86" y="224.55" width="5.7" height="5.7" fill="none" stroke="#e9e9e9" stroke-width="1"/>
<rect x="540.43" y="223.25" width="5.7" height="5.7" fill="none" stroke="#e9e9e9" stroke-width="1"/>
<rect x="548.00" y="229.25" width="5.7" height="5.7" fill="none" stroke="#e9e9e9" stroke-width="1"/>
<rect x="555.57" y="229.25" width="5.7" height="5.7" fill="none" stroke="#e9e9e9" stroke-width="1"/>
<rect x="563.14" y="235.15" width="5.7" height="5.7" fill="none" stroke="#e9e9e9" stroke-width="1"/>
<rect x="570.72" y="241.55" width="5.7" height="5.7" fill="none" stroke="#e9e9e9" stroke-width="1"/>
<rect x="578.29" y="241.85" width="5.7" height="5.7" fill="none" stroke="#e9e9e9" stroke-width="1"/>
<rect x="585.86" y="239.95" width="5.7" height="5.7" fill="none" stroke="#e9e9e9" stroke-width="1"/>
<rect x="593.43" y="236.75" width="5.7" height="5.7" fill="none" stroke="#e9e9e9" stroke-width="1"/>
<rect x="597.98" y="240.75" width="5.7" height="5.7" fill="none" stroke="#e9e9e9" stroke-width="1"/>
<rect x="601.01" y="244.15" width="5.7" height="5.7" fill="none" stroke="#e9e9e9" stroke-width="1"/>
<rect x="604.03" y="247.85" width="5.7" height="5.7" fill="none" stroke="#e9e9e9" stroke-width="1"/>
<rect x="607.06" y="247.05" width="5.7" height="5.7" fill="none" stroke="#e9e9e9" stroke-width="1"/>
<rect x="353.01" y="248.90" width="2.0" height="1.7" fill="#0a0a0a"/>
<rect x="359.63" y="248.90" width="2.0" height="1.7" fill="#0a0a0a"/>
<rect x="366.24" y="248.90" width="2.0" height="1.7" fill="#0a0a0a"/>
<rect x="372.85" y="248.90" width="2.0" height="1.7" fill="#0a0a0a"/>
<rect x="379.46" y="248.90" width="2.0" height="1.7" fill="#0a0a0a"/>
<rect x="386.08" y="248.90" width="2.0" height="1.7" fill="#0a0a0a"/>
<rect x="392.69" y="248.90" width="2.0" height="1.7" fill="#0a0a0a"/>
<rect x="399.30" y="248.90" width="2.0" height="1.7" fill="#0a0a0a"/>
<rect x="405.92" y="248.90" width="2.0" height="1.7" fill="#0a0a0a"/>
<rect x="412.53" y="248.90" width="2.0" height="1.7" fill="#0a0a0a"/>
<rect x="419.14" y="248.90" width="2.0" height="1.7" fill="#0a0a0a"/>
<rect x="425.76" y="248.90" width="2.0" height="1.7" fill="#0a0a0a"/>
<rect x="432.37" y="248.90" width="2.0" height="1.7" fill="#0a0a0a"/>
<rect x="438.98" y="248.90" width="2.0" height="1.7" fill="#0a0a0a"/>
<rect x="445.59" y="248.90" width="2.0" height="1.7" fill="#0a0a0a"/>
<rect x="452.21" y="248.90" width="2.0" height="1.7" fill="#0a0a0a"/>
<rect x="458.82" y="248.90" width="2.0" height="1.7" fill="#0a0a0a"/>
<rect x="465.43" y="248.90" width="2.0" height="1.7" fill="#0a0a0a"/>
<rect x="472.05" y="248.90" width="2.0" height="1.7" fill="#0a0a0a"/>
<rect x="478.66" y="248.90" width="2.0" height="1.7" fill="#0a0a0a"/>
<rect x="485.27" y="248.90" width="2.0" height="1.7" fill="#0a0a0a"/>
<rect x="491.89" y="248.90" width="2.0" height="1.7" fill="#0a0a0a"/>
<rect x="498.50" y="248.90" width="2.0" height="1.7" fill="#0a0a0a"/>
<rect x="505.11" y="248.90" width="2.0" height="1.7" fill="#0a0a0a"/>
<rect x="511.73" y="248.90" width="2.0" height="1.7" fill="#0a0a0a"/>
<rect x="518.34" y="248.90" width="2.0" height="1.7" fill="#0a0a0a"/>
<rect x="524.95" y="248.90" width="2.0" height="1.7" fill="#0a0a0a"/>
<rect x="531.56" y="248.90" width="2.0" height="1.7" fill="#0a0a0a"/>
<rect x="538.18" y="248.90" width="2.0" height="1.7" fill="#0a0a0a"/>
<rect x="544.79" y="248.90" width="2.0" height="1.7" fill="#0a0a0a"/>
<rect x="551.40" y="248.90" width="2.0" height="1.7" fill="#0a0a0a"/>
<rect x="558.02" y="248.90" width="2.0" height="1.7" fill="#0a0a0a"/>
<rect x="564.63" y="248.90" width="2.0" height="1.7" fill="#0a0a0a"/>
<rect x="571.24" y="248.90" width="2.0" height="1.7" fill="#0a0a0a"/>
<rect x="577.86" y="248.90" width="2.0" height="1.7" fill="#0a0a0a"/>
<rect x="584.47" y="248.90" width="2.0" height="1.7" fill="#0a0a0a"/>
<rect x="591.08" y="248.90" width="2.0" height="1.7" fill="#0a0a0a"/>
<rect x="597.69" y="248.90" width="2.0" height="1.7" fill="#0a0a0a"/>
<rect x="604.31" y="248.90" width="2.0" height="1.7" fill="#0a0a0a"/>
<path d="M370.48,246.70 L373.96,249.80 L384.26,236.10 L391.83,230.70 L399.41,218.10 L406.98,221.70 L414.55,192.60 L422.12,200.20 L429.69,185.70 L437.27,164.60 L444.84,171.00 L452.41,148.60 L459.98,140.50 L467.56,122.50 L475.13,112.40 L482.70,105.90 L490.27,108.60 L497.84,101.40 L505.42,74.60 L512.99,87.20 L520.56,98.70 L528.13,106.70 L535.71,118.60 L543.28,134.90 L550.85,140.10 L558.42,184.30 L565.99,182.40 L573.57,150.50 L581.14,208.60 L595.37,246.40 L596.74,247.90" fill="none" stroke="#1a1a1a" stroke-width="1.3" stroke-linejoin="round"/>
<circle cx="370.48" cy="246.70" r="2.3" fill="none" stroke="#1a1a1a" stroke-width="1.15"/>
<circle cx="373.96" cy="249.80" r="2.3" fill="none" stroke="#1a1a1a" stroke-width="1.15"/>
<circle cx="384.26" cy="236.10" r="2.3" fill="none" stroke="#1a1a1a" stroke-width="1.15"/>
<circle cx="391.83" cy="230.70" r="2.3" fill="none" stroke="#1a1a1a" stroke-width="1.15"/>
<circle cx="399.41" cy="218.10" r="2.3" fill="none" stroke="#1a1a1a" stroke-width="1.15"/>
<circle cx="406.98" cy="221.70" r="2.3" fill="none" stroke="#1a1a1a" stroke-width="1.15"/>
<circle cx="414.55" cy="192.60" r="2.3" fill="none" stroke="#1a1a1a" stroke-width="1.15"/>
<circle cx="422.12" cy="200.20" r="2.3" fill="none" stroke="#1a1a1a" stroke-width="1.15"/>
<circle cx="429.69" cy="185.70" r="2.3" fill="none" stroke="#1a1a1a" stroke-width="1.15"/>
<circle cx="437.27" cy="164.60" r="2.3" fill="none" stroke="#1a1a1a" stroke-width="1.15"/>
<circle cx="444.84" cy="171.00" r="2.3" fill="none" stroke="#1a1a1a" stroke-width="1.15"/>
<circle cx="452.41" cy="148.60" r="2.3" fill="none" stroke="#1a1a1a" stroke-width="1.15"/>
<circle cx="459.98" cy="140.50" r="2.3" fill="none" stroke="#1a1a1a" stroke-width="1.15"/>
<circle cx="467.56" cy="122.50" r="2.3" fill="none" stroke="#1a1a1a" stroke-width="1.15"/>
<circle cx="475.13" cy="112.40" r="2.3" fill="none" stroke="#1a1a1a" stroke-width="1.15"/>
<circle cx="482.70" cy="105.90" r="2.3" fill="none" stroke="#1a1a1a" stroke-width="1.15"/>
<circle cx="490.27" cy="108.60" r="2.3" fill="none" stroke="#1a1a1a" stroke-width="1.15"/>
<circle cx="497.84" cy="101.40" r="2.3" fill="none" stroke="#1a1a1a" stroke-width="1.15"/>
<circle cx="505.42" cy="74.60" r="2.3" fill="none" stroke="#1a1a1a" stroke-width="1.15"/>
<circle cx="512.99" cy="87.20" r="2.3" fill="none" stroke="#1a1a1a" stroke-width="1.15"/>
<circle cx="520.56" cy="98.70" r="2.3" fill="none" stroke="#1a1a1a" stroke-width="1.15"/>
<circle cx="528.13" cy="106.70" r="2.3" fill="none" stroke="#1a1a1a" stroke-width="1.15"/>
<circle cx="535.71" cy="118.60" r="2.3" fill="none" stroke="#1a1a1a" stroke-width="1.15"/>
<circle cx="543.28" cy="134.90" r="2.3" fill="none" stroke="#1a1a1a" stroke-width="1.15"/>
<circle cx="550.85" cy="140.10" r="2.3" fill="none" stroke="#1a1a1a" stroke-width="1.15"/>
<circle cx="558.42" cy="184.30" r="2.3" fill="none" stroke="#1a1a1a" stroke-width="1.15"/>
<circle cx="565.99" cy="182.40" r="2.3" fill="none" stroke="#1a1a1a" stroke-width="1.15"/>
<circle cx="573.57" cy="150.50" r="2.3" fill="none" stroke="#1a1a1a" stroke-width="1.15"/>
<circle cx="581.14" cy="208.60" r="2.3" fill="none" stroke="#1a1a1a" stroke-width="1.15"/>
<circle cx="595.37" cy="246.40" r="2.3" fill="none" stroke="#1a1a1a" stroke-width="1.15"/>
<circle cx="596.74" cy="247.90" r="2.3" fill="none" stroke="#1a1a1a" stroke-width="1.15"/>
<rect x="359.70" y="249.30" width="5.4" height="3.0" rx="0.5" fill="#1a1a1a"/>
<rect x="361.00" y="254.75" width="2.4" height="1.7" rx="0.5" fill="#1a1a1a"/>
<rect x="366.80" y="254.80" width="2.0" height="1.6" rx="0.5" fill="#1a1a1a"/>
<rect x="366.05" y="257.75" width="2.3" height="1.3" rx="0.5" fill="#1a1a1a"/>
<rect x="369.70" y="252.10" width="1.2" height="1.0" rx="0.5" fill="#1a1a1a"/>
<rect x="373.65" y="254.45" width="1.3" height="1.1" rx="0.5" fill="#1a1a1a"/>
<rect x="375.80" y="256.90" width="1.2" height="1.0" rx="0.5" fill="#1a1a1a"/>
<rect x="378.40" y="254.00" width="1.2" height="1.0" rx="0.5" fill="#1a1a1a"/>
<path d="M369.0,259.5H373.8L371.4,263.4Z" fill="#1a1a1a"/>
</svg>
</body></html>
